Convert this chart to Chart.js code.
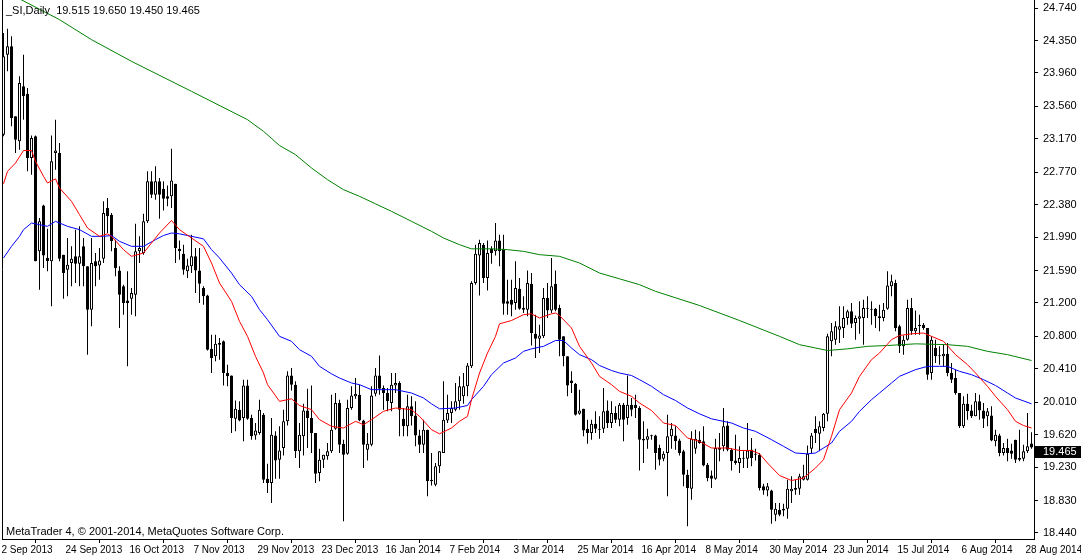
<!DOCTYPE html>
<html>
<head>
<meta charset="utf-8">
<script src="https://cdn.jsdelivr.net/npm/chart.js@4.4.0/dist/chart.umd.min.js"></script>
<style>
  html, body { margin: 0; padding: 0; background: #fff; }
</style>
</head>
<body>
<canvas id="chart" width="1081" height="558"></canvas>
<script>
// _SI daily, 2 Sep 2013 .. 28 Aug 2014
const titleText = '_SI,Daily  19.515 19.650 19.450 19.465';
const footerText = 'MetaTrader 4, \u00a9 2001-2014, MetaQuotes Software Corp.';
const lastPrice = 19.465;

const dateTicks = ['2 Sep 2013','24 Sep 2013','16 Oct 2013','7 Nov 2013','29 Nov 2013','23 Dec 2013',
  '16 Jan 2014','7 Feb 2014','3 Mar 2014','25 Mar 2014','16 Apr 2014','8 May 2014','30 May 2014',
  '23 Jun 2014','15 Jul 2014','6 Aug 2014','28 Aug 2014'];
const barsPerDateTick = 16;

const priceTicks = [24.74,24.35,23.96,23.56,23.17,22.77,22.38,21.99,21.59,21.20,20.80,20.41,20.01,19.62,19.23,18.83,18.44];

const opens = [
  23.22,24.18,24.28,23.44,23.14,23.80,23.71,22.94,23.20,21.82,22.37,21.74,21.70,23.00,23.00,21.78,
  21.60,21.68,21.76,21.67,21.88,21.64,21.12,21.70,21.65,21.73,22.34,22.26,21.86,21.59,21.40,21.23,
  21.25,21.30,21.82,21.80,22.18,22.66,22.50,22.66,22.57,22.48,22.48,22.63,21.85,21.79,21.58,21.64,
  21.76,21.59,21.38,21.29,20.65,20.56,20.72,20.74,20.36,20.33,19.81,19.92,19.82,20.21,19.82,19.61,
  19.64,19.86,19.09,19.04,19.61,19.32,19.46,19.78,20.33,20.22,19.42,19.60,19.91,19.82,19.64,19.16,
  19.32,19.36,19.42,19.69,20.00,19.51,19.39,19.94,20.08,20.10,19.79,19.44,19.50,20.11,20.33,20.18,
  20.12,20.00,20.21,20.24,19.81,19.72,19.96,19.85,19.61,19.50,19.68,19.08,19.02,19.24,19.40,19.79,
  19.88,19.92,20.02,20.08,20.20,20.44,21.44,21.77,21.90,21.50,21.85,21.82,21.95,21.85,21.22,21.24,
  21.20,21.37,21.14,21.12,21.43,20.83,20.77,20.80,21.26,21.11,21.43,21.14,20.80,20.56,20.27,20.23,
  19.87,19.93,19.69,19.64,19.75,19.69,19.69,19.91,19.76,19.88,19.80,19.98,19.82,19.98,19.98,19.94,
  19.57,19.56,19.61,19.61,19.46,19.33,19.40,19.60,19.61,19.55,19.42,19.14,18.97,19.45,19.56,19.54,
  19.26,19.13,19.09,19.44,19.48,19.73,19.44,19.31,19.28,19.34,19.33,19.44,19.39,19.38,19.00,18.95,
  18.95,18.66,18.72,18.71,18.73,18.94,18.96,18.97,19.08,19.08,19.45,19.69,19.63,19.70,19.87,20.74,
  20.76,20.88,20.90,21.02,21.10,20.96,21.01,21.02,21.13,21.13,21.13,21.04,21.02,21.13,21.40,21.44,
  20.92,20.68,20.76,21.14,20.86,20.94,20.94,20.90,20.36,20.66,20.56,20.56,20.59,20.36,20.30,20.12,
  19.72,19.99,19.91,19.84,20.02,19.91,19.84,19.85,19.54,19.61,19.40,19.46,19.43,19.56,19.34,19.33,
  19.42,19.515
];
const highs = [
  24.44,24.49,24.40,23.44,23.92,24.18,23.78,23.21,23.21,22.22,22.38,22.09,23.21,23.40,23.12,21.78,
  21.98,21.88,22.08,22.12,21.98,21.64,21.98,21.80,21.86,22.42,22.46,22.28,21.96,21.64,21.42,21.58,
  21.38,22.15,22.00,22.27,22.78,22.78,22.84,22.70,22.66,22.61,23.05,22.63,21.95,21.90,21.73,22.02,
  21.86,21.86,21.40,21.30,20.82,20.82,20.78,20.75,20.46,20.33,20.03,20.02,20.28,20.28,19.86,19.76,
  20.04,19.88,19.27,19.82,19.66,19.72,19.92,20.38,20.42,20.26,19.76,19.99,20.17,20.21,19.64,19.45,
  19.38,19.52,20.10,20.12,20.04,19.56,20.04,20.20,20.30,20.22,19.80,19.64,20.20,20.42,20.57,20.21,
  20.18,20.36,20.36,20.26,19.94,20.10,20.08,20.02,19.68,19.80,19.68,19.40,19.28,19.42,20.26,20.10,
  20.02,20.24,20.32,20.36,20.48,21.46,21.90,21.96,21.92,21.95,21.88,22.16,22.02,22.02,21.48,21.48,
  21.70,21.50,21.28,21.59,21.56,21.06,20.94,21.38,21.44,21.74,21.59,21.18,20.80,20.56,20.38,20.24,
  20.16,19.93,19.80,19.80,19.90,19.84,20.18,20.03,20.02,19.96,20.00,20.00,20.33,20.06,20.10,19.96,
  19.78,19.69,19.62,19.62,19.50,19.42,19.86,19.76,19.72,19.57,19.44,19.20,19.66,19.68,19.66,19.72,
  19.28,19.19,19.57,19.64,19.94,19.78,19.46,19.62,19.48,19.42,19.76,19.58,19.45,19.40,19.03,19.04,
  18.96,18.80,18.80,18.79,19.08,19.12,19.08,19.15,19.26,19.49,19.64,19.84,19.78,19.88,20.83,20.96,
  20.98,21.16,21.16,21.12,21.20,21.05,21.22,21.24,21.28,21.22,21.14,21.18,21.20,21.58,21.54,21.48,
  20.94,20.81,21.24,21.26,21.11,21.06,20.96,20.90,20.80,20.76,20.68,20.70,20.72,20.48,20.40,20.12,
  20.08,20.11,19.98,20.12,20.10,20.00,19.94,19.96,19.68,19.63,19.52,19.57,19.51,19.56,19.68,19.50,
  19.88,19.65
];
const lows = [
  23.20,23.98,23.32,23.00,23.04,23.40,22.78,22.74,21.70,21.36,21.62,21.58,21.16,22.80,21.70,21.25,
  21.28,21.40,21.44,21.40,21.40,20.58,20.92,21.40,21.48,21.68,22.04,21.82,21.52,20.90,21.06,20.44,
  21.06,21.04,21.68,21.78,22.16,22.46,22.44,22.21,22.31,22.36,22.34,21.68,21.72,21.54,21.50,21.56,
  21.32,21.20,21.18,20.63,20.36,20.50,20.52,20.21,20.20,19.64,19.66,19.78,19.54,19.80,19.56,19.56,
  19.62,19.04,18.92,18.80,19.09,19.09,19.37,19.73,20.15,19.34,19.22,19.37,19.46,19.40,19.04,19.06,
  19.22,19.32,19.40,19.68,19.40,18.58,19.38,19.92,20.05,19.78,19.22,19.31,19.48,20.08,20.10,19.92,
  19.90,19.90,20.12,19.60,19.60,19.60,19.73,19.48,19.40,19.40,18.88,19.01,19.00,19.16,19.40,19.76,
  19.76,19.90,19.92,19.99,20.08,20.42,21.42,21.29,21.44,21.35,21.67,21.77,21.64,21.06,21.06,21.04,
  21.12,21.12,21.08,21.04,20.69,20.54,20.60,20.78,21.02,21.08,21.10,20.56,20.44,20.08,20.12,19.85,
  19.86,19.60,19.51,19.56,19.64,19.57,19.64,19.70,19.70,19.76,19.72,19.54,19.74,19.84,19.82,19.19,
  19.28,19.45,19.56,19.20,19.25,19.30,18.88,19.45,19.44,19.37,19.00,18.52,18.84,19.39,19.51,19.24,
  19.06,18.98,19.08,19.30,19.42,19.42,19.19,19.26,19.16,19.22,19.22,19.24,19.31,18.95,18.90,18.88,
  18.55,18.58,18.64,18.64,18.61,18.80,18.90,18.90,19.07,19.07,19.40,19.52,19.42,19.66,19.78,20.56,
  20.70,20.72,20.78,20.94,20.90,20.76,20.83,20.70,21.02,20.94,20.90,20.86,20.98,21.12,21.28,20.86,
  20.60,20.58,20.75,20.82,20.82,20.82,20.88,20.28,20.28,20.48,20.46,20.44,20.32,20.24,20.10,19.70,
  19.70,19.80,19.82,19.84,19.80,19.70,19.72,19.54,19.48,19.36,19.37,19.30,19.33,19.28,19.30,19.30,
  19.40,19.45
];
const closes = [
  24.16,24.28,23.42,23.16,23.84,23.68,22.94,23.18,21.70,22.18,21.77,21.70,22.90,23.03,21.73,21.56,
  21.66,21.73,21.67,21.76,21.64,21.12,21.68,21.64,21.71,22.28,22.24,21.94,21.62,21.30,21.20,21.20,
  21.32,21.82,21.86,22.18,22.66,22.50,22.66,22.50,22.45,22.45,22.67,21.86,21.82,21.60,21.65,21.76,
  21.59,21.43,21.28,20.64,20.54,20.71,20.70,20.36,20.32,19.82,19.93,19.79,20.21,19.81,19.60,19.67,
  19.92,19.08,19.04,19.62,19.31,19.43,19.78,20.33,20.22,19.42,19.62,19.91,19.82,19.64,19.15,19.32,
  19.38,19.42,19.68,20.00,19.50,19.38,19.94,20.09,20.11,19.79,19.50,19.51,20.09,20.33,20.17,20.12,
  20.02,20.22,20.24,19.92,19.72,19.96,19.84,19.61,19.50,19.68,19.06,19.06,19.24,19.42,19.80,19.88,
  19.94,20.02,20.20,20.20,20.45,21.44,21.79,21.92,21.50,21.80,21.80,21.95,21.82,21.19,21.19,21.18,
  21.38,21.13,21.12,21.44,20.84,20.77,20.81,21.26,21.11,21.40,21.12,20.76,20.56,20.21,20.24,19.86,
  19.91,19.67,19.64,19.75,19.69,19.68,19.90,19.76,19.88,19.80,19.98,19.80,19.98,19.92,19.94,19.56,
  19.55,19.60,19.60,19.40,19.32,19.39,19.60,19.69,19.54,19.40,19.14,18.98,19.57,19.57,19.52,19.25,
  19.10,19.09,19.46,19.46,19.72,19.44,19.30,19.28,19.34,19.33,19.43,19.34,19.38,18.98,18.95,19.00,
  18.72,18.73,18.66,18.73,18.97,18.97,18.98,19.12,19.12,19.39,19.61,19.64,19.72,19.87,20.80,20.86,
  20.92,20.92,21.02,21.10,20.95,21.02,21.04,21.14,21.14,21.12,21.04,21.02,21.12,21.41,21.46,20.90,
  20.68,20.76,21.14,20.86,20.90,20.92,20.90,20.34,20.76,20.56,20.57,20.59,20.36,20.28,20.12,19.72,
  19.99,19.90,19.84,20.02,19.91,19.81,19.90,19.55,19.62,19.40,19.46,19.40,19.39,19.32,19.32,19.42,
  19.48,19.465
];

// moving averages as [bar index, price]
const maFast = [[0,22.63],[1,22.78],[3,22.88],[5,23.03],[7,23.03],[8,22.90],[10,22.72],[11,22.64],[13,22.69],
  [14,22.58],[17,22.42],[19,22.26],[21,22.10],[24,22.00],[26,22.03],[27,22.00],[30,21.84],[32,21.76],[35,21.80],
  [37,21.92],[39,22.04],[42,22.19],[44,22.08],[47,21.98],[50,21.88],[52,21.68],[54,21.44],[57,21.22],[59,20.98],
  [61,20.80],[63,20.56],[65,20.36],[66,20.22],[69,20.02],[72,20.05],[74,19.97],[77,19.92],[79,19.80],[82,19.72],
  [85,19.70],[88,19.78],[90,19.74],[92,19.80],[95,19.90],[98,19.94],[102,19.92],[104,19.84],[107,19.68],[109,19.63],
  [112,19.70],[114,19.78],[116,19.84],[117,20.04],[119,20.36],[121,20.60],[123,20.80],[124,20.95],[127,20.99],
  [130,21.06],[132,21.07],[134,21.02],[137,21.07],[138,21.08],[139,21.05],[142,20.90],[144,20.68],[147,20.48],
  [149,20.32],[152,20.22],[154,20.14],[157,20.08],[159,20.00],[162,19.91],[165,19.76],[168,19.73],[171,19.58],
  [174,19.54],[177,19.46],[181,19.46],[184,19.43],[187,19.43],[189,19.39],[191,19.28],[194,19.13],[197,19.07],
  [200,19.10],[203,19.22],[205,19.32],[207,19.60],[209,19.92],[212,20.12],[214,20.32],[217,20.52],[219,20.60],
  [222,20.76],[224,20.81],[227,20.83],[230,20.84],[232,20.80],[235,20.74],[238,20.58],[241,20.46],[243,20.36],
  [246,20.20],[248,20.08],[251,19.92],[253,19.78],[255,19.73],[257,19.70]];
const maMid = [[0,21.74],[2,21.88],[4,22.00],[5,22.08],[7,22.16],[9,22.14],[11,22.12],[13,22.18],[16,22.12],
  [19,22.08],[22,22.00],[25,22.00],[27,22.01],[29,21.94],[32,21.88],[35,21.88],[38,21.96],[40,22.01],[42,22.04],
  [44,22.03],[47,22.00],[50,21.97],[52,21.84],[54,21.74],[57,21.56],[59,21.42],[62,21.28],[64,21.12],[66,21.00],
  [69,20.80],[72,20.74],[74,20.64],[77,20.56],[79,20.44],[82,20.35],[84,20.30],[87,20.24],[89,20.22],[92,20.16],
  [98,20.16],[102,20.12],[105,20.06],[107,19.99],[109,19.93],[113,19.94],[116,19.97],[117,20.04],[120,20.20],
  [122,20.34],[125,20.48],[128,20.54],[130,20.62],[132,20.65],[135,20.68],[138,20.75],[140,20.75],[142,20.66],
  [144,20.58],[147,20.52],[149,20.45],[152,20.39],[154,20.36],[157,20.33],[159,20.28],[162,20.20],[165,20.10],
  [168,20.03],[171,19.94],[174,19.87],[177,19.81],[180,19.78],[182,19.76],[185,19.70],[188,19.66],[192,19.56],
  [195,19.48],[198,19.40],[201,19.39],[203,19.40],[205,19.46],[207,19.52],[209,19.66],[212,19.78],[214,19.90],
  [217,20.04],[219,20.12],[222,20.24],[224,20.32],[228,20.40],[231,20.44],[234,20.44],[236,20.44],[239,20.38],
  [242,20.34],[245,20.28],[248,20.21],[251,20.12],[253,20.06],[257,19.99]];
const maSlow = [[0,24.95],[6,24.80],[14,24.60],[22,24.36],[32,24.10],[47,23.74],[61,23.40],[65,23.26],[69,23.09],
  [73,22.98],[77,22.82],[81,22.68],[85,22.56],[89,22.48],[93,22.39],[97,22.30],[102,22.18],[107,22.06],[110,21.98],
  [114,21.90],[117,21.85],[122,21.85],[126,21.84],[130,21.82],[134,21.78],[139,21.76],[144,21.68],[149,21.56],
  [154,21.49],[159,21.42],[163,21.34],[174,21.17],[184,20.99],[194,20.80],[199,20.70],[203,20.66],[206,20.63],
  [211,20.65],[216,20.68],[221,20.69],[228,20.71],[236,20.70],[241,20.68],[246,20.62],[251,20.58],[257,20.51]];

const FAMILY = '"Liberation Sans", Arial, sans-serif';
const FONT = '11px ' + FAMILY;

const bull = i => closes[i] >= opens[i];
const wickData = lows.map((lo, i) => ({ x: i, y: [lo, highs[i]] }));
const bodyData = opens.map((o, i) => ({ x: i, y: [o, closes[i]] }));
const toPts = arr => arr.map(([i, v]) => ({ x: i, y: v }));

const maLine = (data, color) => ({
  type: 'line', data: toPts(data), borderColor: color, borderWidth: 1,
  pointRadius: 0, tension: 0, order: 0
});

// frame, caption texts and the current price box
const mtOverlay = {
  id: 'mtOverlay',
  afterDraw(chart){
    const { ctx, chartArea: a } = chart;
    const y = chart.scales.y;
    ctx.save();
    ctx.strokeStyle = '#000';
    ctx.lineWidth = 1;
    ctx.beginPath();
    ctx.moveTo(a.left + 0.5, 0);
    ctx.lineTo(a.left + 0.5, a.bottom);
    ctx.stroke();

    ctx.font = FONT;
    ctx.fillStyle = '#000';
    ctx.textBaseline = 'middle';
    ctx.textAlign = 'left';
    ctx.fillText(titleText, 6, 11);
    ctx.fillText(footerText, 6, 532);

    const py = Math.round(y.getPixelForValue(lastPrice));
    ctx.fillRect(a.right + 1, py - 2, chart.width - a.right - 1, 12);
    ctx.fillStyle = '#fff';
    ctx.fillText(lastPrice.toFixed(3), a.right + 9, py + 4);
    ctx.restore();
  }
};

new Chart(document.getElementById('chart'), {
  type: 'bar',
  data: {
    datasets: [
      maLine(maFast, '#ff0000'),
      maLine(maMid, '#0000ff'),
      maLine(maSlow, '#008000'),
      {
        data: bodyData, order: 2, grouped: false, barThickness: 3, minBarLength: 1,
        borderWidth: 1, borderColor: '#000', borderSkipped: false, inflateAmount: 0,
        backgroundColor: c => bull(c.dataIndex) ? '#fff' : '#000'
      },
      {
        data: wickData, order: 3, grouped: false, barThickness: 1,
        borderWidth: 0, inflateAmount: 0, backgroundColor: '#000'
      }
    ]
  },
  options: {
    responsive: false,
    animation: false,
    events: [],
    layout: { padding: { left: 2, top: 0, right: 0, bottom: 0 } },
    plugins: { legend: { display: false }, tooltip: { enabled: false } },
    scales: {
      x: {
        type: 'linear', min: -0.375, max: 257.625, bounds: 'data', offset: false,
        afterFit: s => { s.height = 19; s.paddingLeft = 0; s.paddingRight = 0; },
        afterBuildTicks: s => { s.ticks = dateTicks.map((_, k) => ({ value: k * barsPerDateTick })); },
        grid: { drawOnChartArea: false, drawTicks: true, tickLength: 4, color: '#000' },
        border: { display: true, color: '#000', width: 1 },
        ticks: {
          autoSkip: false, maxRotation: 0, minRotation: 0, align: 'start', padding: 1, labelOffset: -2,
          color: '#000', font: { family: FAMILY, size: 10 },
          callback: v => dateTicks[Math.round(v / barsPerDateTick)] || ''
        }
      },
      y: {
        type: 'linear', position: 'right', min: 18.368, max: 24.836, bounds: 'data',
        afterFit: s => { s.width = 47; s.paddingTop = 0; s.paddingBottom = 0; },
        afterBuildTicks: s => { s.ticks = priceTicks.map(v => ({ value: v })); },
        grid: { drawOnChartArea: false, drawTicks: true, tickLength: 4, color: '#000' },
        border: { display: true, color: '#000', width: 1 },
        ticks: {
          padding: 5, color: '#000', font: { family: FAMILY, size: 11 },
          callback: v => Number(v).toFixed(3)
        }
      }
    }
  },
  plugins: [mtOverlay]
});
</script>
</body>
</html>
